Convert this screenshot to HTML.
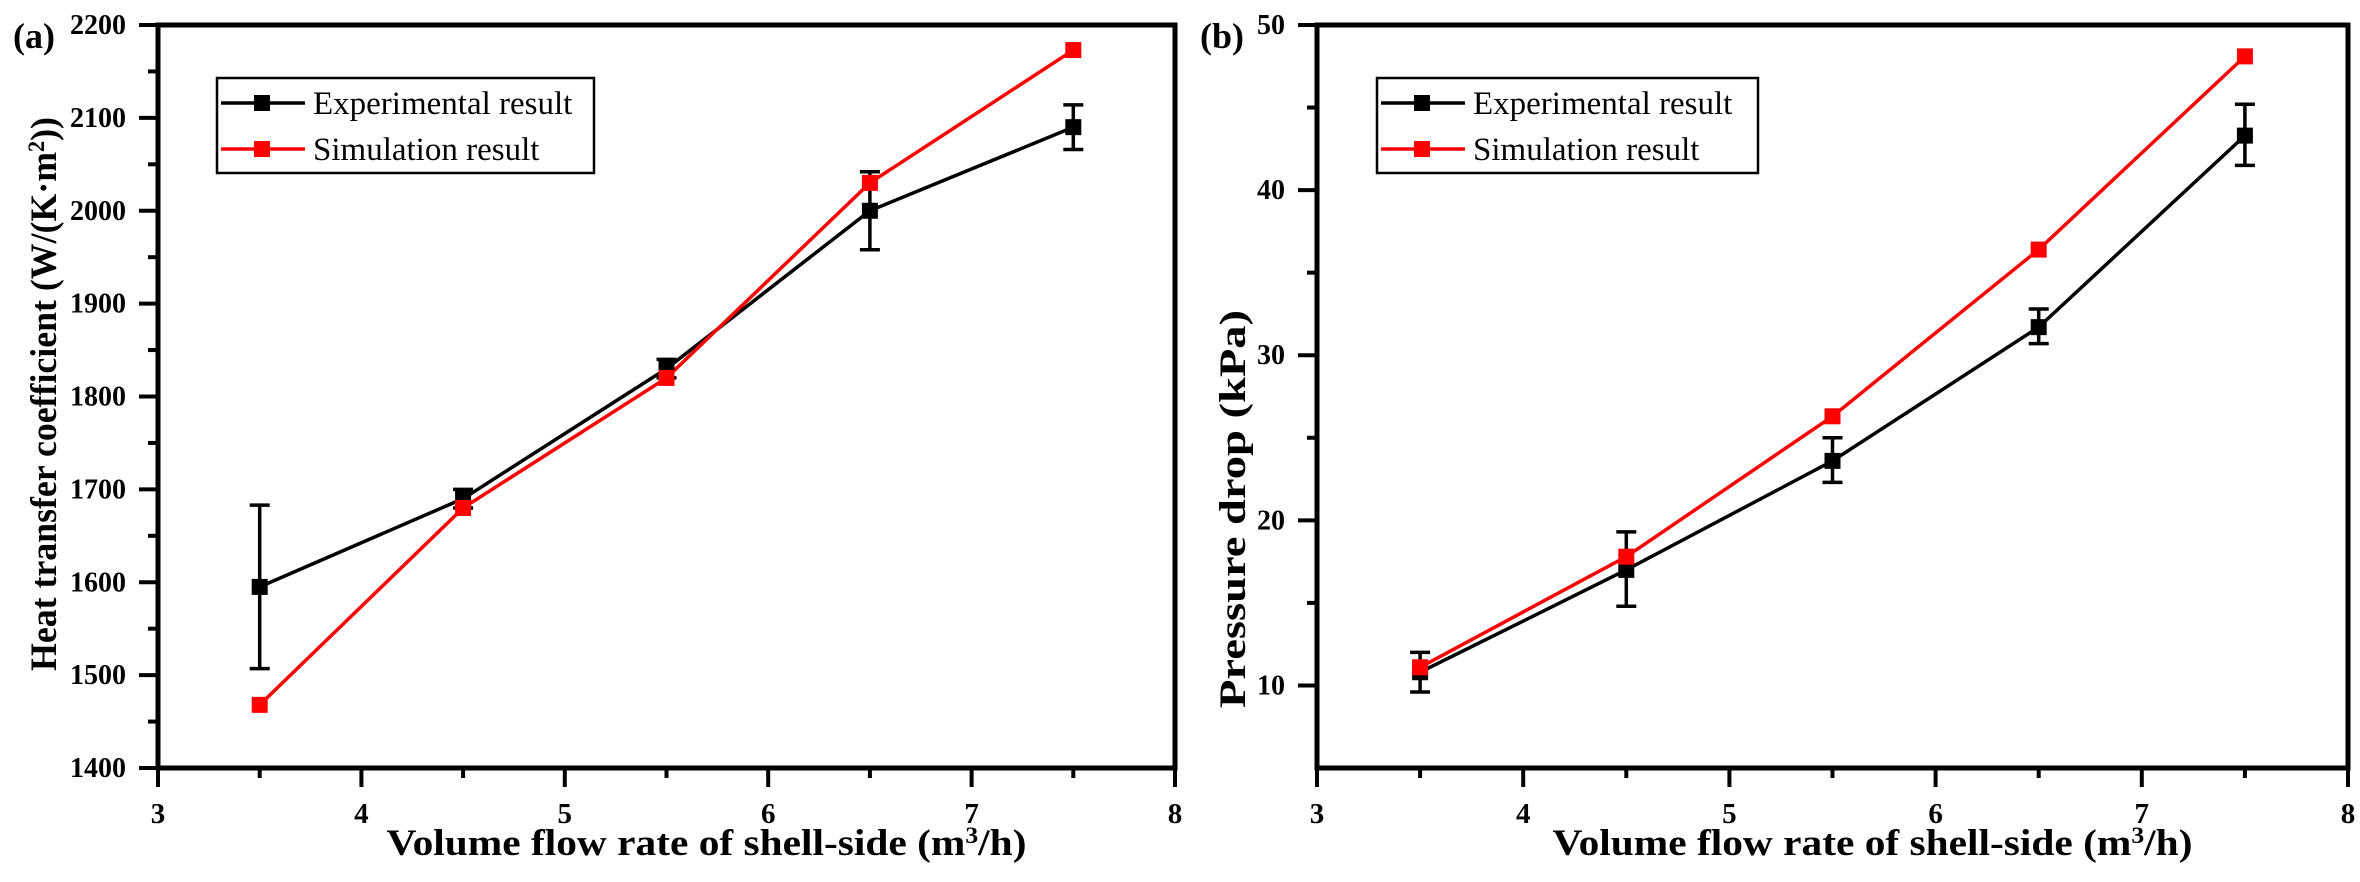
<!DOCTYPE html>
<html><head><meta charset="utf-8"><style>
body{margin:0;background:#fff;width:2360px;height:877px;overflow:hidden}
svg text{font-family:"Liberation Serif",serif}
</style></head><body>
<svg id="chart" width="2360" height="877" viewBox="0 0 2360 877" xmlns="http://www.w3.org/2000/svg"></svg>
<script>
const xValues=[3.5,4.5,5.5,6.5,7.5];
const xTicks=[3,4,5,6,7,8];
const expA=[1595,1690,1830,2000,2090];
const expALo=[1507,1680,1820,1958,2066];
const expAHi=[1683,1700,1840,2042,2114];
const simA=[1468,1680,1820,2030,2173];
const yTicksA=[1400,1500,1600,1700,1800,1900,2000,2100,2200];
const expB=[10.8,17,23.6,31.7,43.3];
const expBLo=[9.6,14.8,22.3,30.7,41.5];
const expBHi=[12,19.3,25,32.8,45.2];
const simB=[11.1,17.8,26.3,36.4,48.1];
const yTicksB=[10,20,30,40,50];

const svg=document.getElementById('chart');
const NS='http://www.w3.org/2000/svg';
function mk(tag,attrs,parent){const e=document.createElementNS(NS,tag);for(const k in attrs)e.setAttribute(k,attrs[k]);(parent||svg).appendChild(e);return e;}

function panel(p){
  const g=mk('g',{});
  
  
  const X=v=>p.x0+(v-3)/(8-3)*(p.x1-p.x0);
  const Y=v=>p.yb-(v-p.ymin)/(p.ymax-p.ymin)*(p.yb-p.yt);
  xTicks.forEach(t=>{
    mk('line',{x1:X(t),x2:X(t),y1:p.yb,y2:p.yb+19,stroke:'#000','stroke-width':4},g);
    const tx=mk('text',{x:X(t),y:p.yb+55,'text-anchor':'middle','font-size':29,'font-weight':'bold'},g);
    tx.textContent=t;
    
    
    if(t<8) mk('line',{x1:X(t+0.5),x2:X(t+0.5),y1:p.yb,y2:p.yb+10,stroke:'#000','stroke-width':4},g);
  });
  p.yTicks.forEach((t,i)=>{
    mk('line',{x1:p.x0-19,x2:p.x0,y1:Y(t),y2:Y(t),stroke:'#000','stroke-width':4},g);
    const tx=mk('text',{x:p.x0-32,y:Y(t)+9,'text-anchor':'end','font-size':28,'font-weight':'bold'},g);
    tx.textContent=t;
    
    
    const m=t+p.minor;
    if(m<p.ymax) mk('line',{x1:p.x0-10,x2:p.x0,y1:Y(m),y2:Y(m),stroke:'#000','stroke-width':4},g);
  });
  if(p.yTicks[0]-p.minor>p.ymin) mk('line',{x1:p.x0-10,x2:p.x0,y1:Y(p.yTicks[0]-p.minor),y2:Y(p.yTicks[0]-p.minor),stroke:'#000','stroke-width':4},g);
  const frame=mk('rect',{x:p.x0,y:p.yt,width:p.x1-p.x0,height:p.yb-p.yt,fill:'none',stroke:'#000','stroke-width':5},g);
  
  
  function series(vals,color,nm){
    const pl=mk('polyline',{points:xValues.map((x,i)=>X(x)+','+Y(vals[i])).join(' '),fill:'none',stroke:color,'stroke-width':3.5},g);
    
    
  }
  function markers(vals,color,nm){
    xValues.forEach((x,i)=>{
      const r=mk('rect',{x:X(x)-8,y:Y(vals[i])-8,width:16,height:16,fill:color},g);
      
      
    });
  }
  series(p.exp,'#000','experimental');
  p.lo.forEach((lo,i)=>{
    const x=X(xValues[i]);
    const e=mk('path',{d:`M${x},${Y(lo)}V${Y(p.hi[i])}M${x-10},${Y(lo)}H${x+10}M${x-10},${Y(p.hi[i])}H${x+10}`,stroke:'#000','stroke-width':3.5,fill:'none'},g);
    
    
  });
  series(p.sim,'#ff0000','simulation');
  markers(p.exp,'#000','experimental');
  markers(p.sim,'#ff0000','simulation');
  const lg=mk('g',{},g);
  
  
  mk('rect',{x:p.lx,y:78,width:p.lw,height:95,fill:'#fff',stroke:'#000','stroke-width':2.5},lg);
  [['Experimental result','#000',103],['Simulation result','#ff0000',149]].forEach(([t,c,y])=>{
    mk('line',{x1:p.lx+4,x2:p.lx+88,y1:y,y2:y,stroke:c,'stroke-width':3.5},lg);
    mk('rect',{x:p.lx+37,y:y-8,width:16,height:16,fill:c},lg);
    const tx=mk('text',{x:p.lx+96,y:y+11,'font-size':33},lg);
    tx.textContent=t;
    
    
  });
  const lab=mk('text',{x:p.labx,y:48,'font-size':36,'font-weight':'bold'},g);
  lab.textContent=p.label;
  
  
  const xt=mk('text',{x:(p.x0+p.x1)/2+40,y:p.yb+87,'text-anchor':'middle','font-size':37,'font-weight':'bold',textLength:640,lengthAdjust:'spacingAndGlyphs'},g);
  xt.innerHTML='Volume flow rate of shell-side (m<tspan dy="-12" font-size="23">3</tspan><tspan dy="12">/h)</tspan>';
  
  
  const yt=mk('text',{x:0,y:0,'text-anchor':'middle','font-size':37,'font-weight':'bold',textLength:p.ytl,lengthAdjust:'spacingAndGlyphs',transform:`translate(${p.ytx},${p.ytc}) rotate(-90)`},g);
  yt.innerHTML=p.ytitle;
  
  
}
panel({name:'panel-a-heat-transfer',x0:158,x1:1175,yt:25,yb:768,ymin:1400,ymax:2200,yTicks:yTicksA,minor:50,exp:expA,lo:expALo,hi:expAHi,sim:simA,lx:217,lw:377,label:'(a)',labx:13,ytx:56,ytc:394,ytl:554,ytitle:'Heat transfer coefficient (W/(K·m<tspan dy="-12" font-size="23">2</tspan><tspan dy="12">))</tspan>'});
panel({name:'panel-b-pressure-drop',x0:1317,x1:2348,yt:25,yb:768,ymin:5,ymax:50,yTicks:yTicksB,minor:5,exp:expB,lo:expBLo,hi:expBHi,sim:simB,lx:1377,lw:381,label:'(b)',labx:1200,ytx:1245,ytc:509,ytl:398,ytitle:'Pressure drop (kPa)'});
</script>
</body></html>
